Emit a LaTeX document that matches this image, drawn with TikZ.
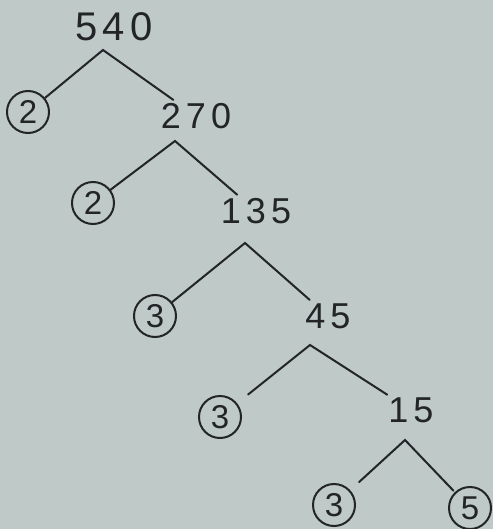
\documentclass[tikz,border=0pt]{standalone}
\usepackage{fontspec}
\setmainfont{Liberation Sans}
\newfontfamily\handfont[LetterSpace=14]{Liberation Sans}
\usepackage{xcolor}
\usetikzlibrary{positioning}
\definecolor{paper}{RGB}{190,201,200}
\definecolor{ink}{RGB}{34,36,38}

\begin{document}
\begin{tikzpicture}[x=1pt, y=-1pt,
      num/.style={inner sep=2pt, text=ink, font=\handfont\fontsize{36}{36}\selectfont},
      prime/.style={draw=ink, line width=2pt, circle, minimum size=42pt, inner sep=0pt,
                    text=ink, font=\fontsize{33}{33}\selectfont},
      branch/.style={draw=ink, line width=2pt, line cap=round}
    ]
      \fill[paper] (0,0) rectangle (493,529);
      \useasboundingbox (0,0) rectangle (493,529);

      % composite numbers
      \node[num, font=\handfont\fontsize{40}{40}\selectfont] (n540) at (114,27) {540};
      \node[num] (n270) at (196,116) {270};
      \node[num] (n135) at (256,211) {135};
      \node[num] (n45) at (328,316) {45};
      \node[num] (n15) at (411,410) {15};

      % prime factors
      \node[prime] (p2a) at (28,112) {2};
      \node[prime] (p2b) at (93,203) {2};
      \node[prime] (p3a) at (155,316) {3};
      \node[prime] (p3b) at (220,417) {3};
      \node[prime] (p3c) at (334,505) {3};
      \node[prime] (p5) at (470,508) {5};

      % split points under each number
      \coordinate (s540) at (103,50);
      \coordinate (s270) at (175,141);
      \coordinate (s135) at (245,243);
      \coordinate (s45) at (310,345);
      \coordinate (s15) at (405,440);

      \draw[branch, shorten >=2pt] (p2a) -- (s540) -- (n270);
      \draw[branch, shorten >=2pt] (p2b) -- (s270) -- (n135);
      \draw[branch, shorten >=2pt] (p3a) -- (s135) -- (n45);
      \draw[branch, shorten <=14pt, shorten >=1pt] (p3b) -- (s45) -- (n15);
      \draw[branch, shorten <=12pt, shorten >=2pt] (p3c) -- (s15) -- (p5);
    \end{tikzpicture}
\end{document}
